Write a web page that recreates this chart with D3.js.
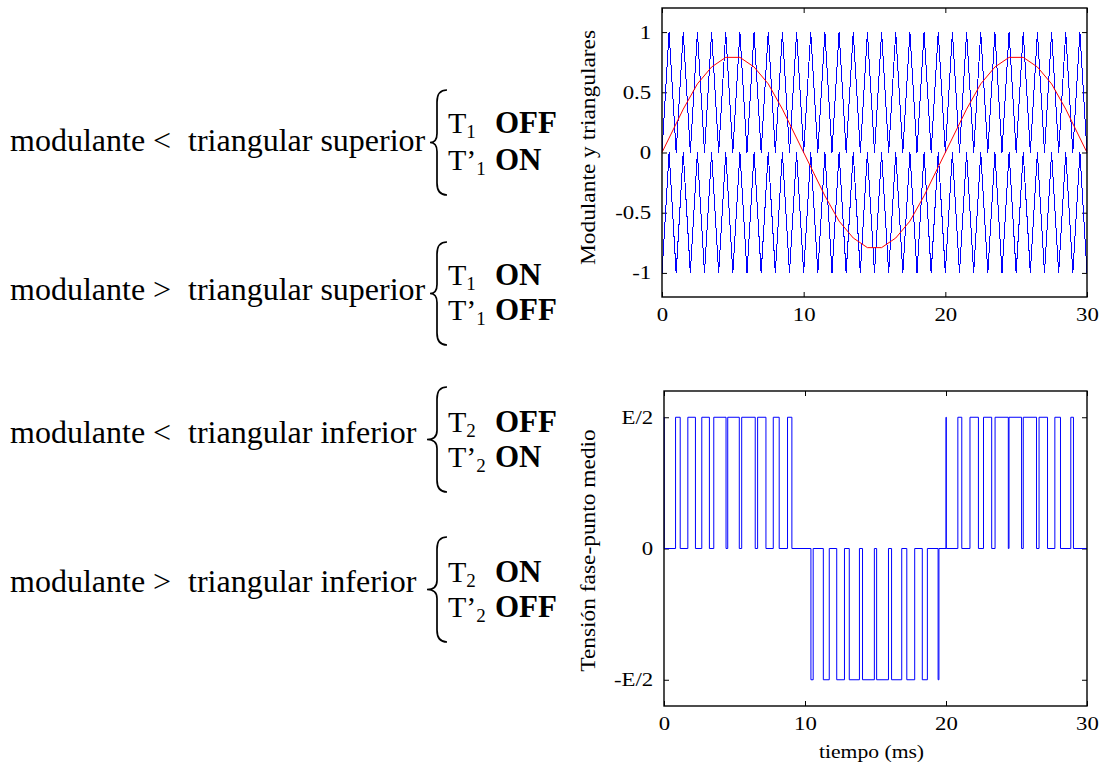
<!DOCTYPE html>
<html>
<head>
<meta charset="utf-8">
<script src="https://cdn.jsdelivr.net/npm/d3@7"></script>
<style>
  body { margin: 0; background: #fff; }
  svg { display: block; font-family: "Liberation Serif", "Times New Roman", serif; }
</style>
</head>
<body>
<div id="wrapper"></div>
<script>
// triangular carriers, vertices every half millisecond (ms)
const carrierTime = [
  0, 0.5, 1, 1.5, 2, 2.5, 3, 3.5, 4, 4.5, 5, 5.5, 6, 6.5, 7, 7.5, 8, 8.5, 9, 9.5,
  10, 10.5, 11, 11.5, 12, 12.5, 13, 13.5, 14, 14.5, 15, 15.5, 16, 16.5, 17, 17.5, 18, 18.5, 19, 19.5,
  20, 20.5, 21, 21.5, 22, 22.5, 23, 23.5, 24, 24.5, 25, 25.5, 26, 26.5, 27, 27.5, 28, 28.5, 29, 29.5, 30
]
const upperCarrier = [
  0, 1, 0, 1, 0, 1, 0, 1, 0, 1, 0, 1, 0, 1, 0, 1, 0, 1, 0, 1,
  0, 1, 0, 1, 0, 1, 0, 1, 0, 1, 0, 1, 0, 1, 0, 1, 0, 1, 0, 1,
  0, 1, 0, 1, 0, 1, 0, 1, 0, 1, 0, 1, 0, 1, 0, 1, 0, 1, 0, 1, 0
]
const lowerCarrier = [
  -1, 0, -1, 0, -1, 0, -1, 0, -1, 0, -1, 0, -1, 0, -1, 0, -1, 0, -1, 0,
  -1, 0, -1, 0, -1, 0, -1, 0, -1, 0, -1, 0, -1, 0, -1, 0, -1, 0, -1, 0,
  -1, 0, -1, 0, -1, 0, -1, 0, -1, 0, -1, 0, -1, 0, -1, 0, -1, 0, -1, 0, -1
]

// modulating wave (red)
const modTime = [
  0, 0.5, 1.5, 2.5, 3.5, 4.5, 5.5, 6.5, 7.5, 8.5, 9.5,
  10.5, 11.5, 12.5, 13.5, 14.5, 15.5, 16.5, 17.5, 18.5, 19.5,
  20.5, 21.5, 22.5, 23.5, 24.5, 25.5, 26.5, 27.5, 28.5, 29.5, 30
]
const modValue = [
  0, 0.12, 0.36, 0.57, 0.71, 0.79, 0.79, 0.71, 0.57, 0.36, 0.12,
  -0.12, -0.36, -0.57, -0.71, -0.79, -0.79, -0.71, -0.57, -0.36, -0.12,
  0.12, 0.36, 0.57, 0.71, 0.79, 0.79, 0.71, 0.57, 0.36, 0.12, 0
]

// phase to mid-point voltage, in units of E/2 (level held until next edge)
const pwmTime = [
  0, 0.02, 0.82, 1.15, 1.69, 2.23, 2.68, 3.22, 3.53, 4.40, 4.52, 5.34, 5.51, 6.47, 6.64, 7.23, 7.75, 8.17, 8.76, 9.07,
  10.42, 10.58, 11.30, 11.72, 12.25, 12.80, 13.14, 13.86, 14.08, 14.92, 15.08, 15.92, 16.14, 16.86, 17.22, 17.78, 18.32, 18.68, 19.44, 19.50,
  20.00, 20.02, 20.84, 21.12, 21.70, 22.30, 22.66, 23.24, 23.48, 24.42, 24.47, 25.36, 25.48, 26.42, 26.60, 27.20, 27.72, 28.12, 28.85, 29.04,
  30
]
const pwmLevel = [
  1, 0, 1, 0, 1, 0, 1, 0, 1, 0, 1, 0, 1, 0, 1, 0, 1, 0, 1, 0,
  -1, 0, -1, 0, -1, 0, -1, 0, -1, 0, -1, 0, -1, 0, -1, 0, -1, 0, -1, 0,
  1, 0, 1, 0, 1, 0, 1, 0, 1, 0, 1, 0, 1, 0, 1, 0, 1, 0, 1, 0,
  0
]

const xTicks = [0, 10, 20, 30]
const topYTicks = [-1, -0.5, 0, 0.5, 1]
const topYTickLabels = ['-1', '-0.5', '0', '0.5', '1']
const bottomYTicks = [-1, 0, 1]
const bottomYTickLabels = ['-E/2', '0', 'E/2']

// switching rules text
const ruleLeft = ['modulante <', 'modulante >', 'modulante <', 'modulante >']
const ruleRight = ['triangular superior', 'triangular superior', 'triangular inferior', 'triangular inferior']
const ruleSub = ['1', '1', '2', '2']
const ruleMainState = ['OFF', 'ON', 'OFF', 'ON']
const rulePrimeState = ['ON', 'OFF', 'ON', 'OFF']

function drawPanel(svg, box, opts) {
  const width = box.right - box.left
  const height = box.bottom - box.top

  const bounds = svg.append('g')
      .attr('transform', `translate(${box.left},${box.top})`)

  const xScale = d3.scaleLinear()
      .domain([0, 30])
      .range([0, width])
  const yScale = d3.scaleLinear()
      .domain([-1.2, 1.2])
      .range([height, 0])

  const styleAxis = g => {
    g.attr('font-family', null).attr('font-size', null)
    g.select('.domain').remove()
    g.selectAll('.tick line').attr('stroke', '#000')
    g.selectAll('.tick text')
        .attr('fill', '#000')
        .attr('font-size', 19)
        .attr('transform', 'scale(1.2,1)')
  }

  bounds.append('g')
      .call(d3.axisLeft(yScale)
        .tickValues(opts.yTicks)
        .tickFormat((d, i) => opts.yTickLabels[i])
        .tickSizeInner(-5).tickSizeOuter(0).tickPadding(9))
      .call(styleAxis)
  bounds.append('g')
      .attr('transform', `translate(${width},0)`)
      .call(d3.axisRight(yScale)
        .tickValues(opts.yTicks).tickFormat('')
        .tickSizeInner(-5).tickSizeOuter(0))
      .call(styleAxis)
  bounds.append('g')
      .attr('transform', `translate(0,${height})`)
      .call(d3.axisBottom(xScale)
        .tickValues(xTicks).tickFormat(d3.format('d'))
        .tickSizeInner(-5).tickSizeOuter(0).tickPadding(11))
      .call(styleAxis)
  bounds.append('g')
      .call(d3.axisTop(xScale)
        .tickValues(xTicks).tickFormat('')
        .tickSizeInner(-5).tickSizeOuter(0))
      .call(styleAxis)

  opts.series.forEach(s => {
    const line = d3.line()
        .x(d => xScale(d.t))
        .y(d => yScale(d.v))
    if (s.step) line.curve(d3.curveStepAfter)
    bounds.append('path')
        .attr('d', line(s.data))
        .attr('fill', 'none')
        .attr('stroke', s.color)
        .attr('stroke-width', 1)
        .attr('shape-rendering', s.crisp ? 'crispEdges' : null)
  })

  bounds.append('rect')
      .attr('width', width)
      .attr('height', height)
      .attr('fill', 'none')
      .attr('stroke', '#000')
      .attr('stroke-width', 1.4)

  svg.append('text')
      .attr('transform', `translate(${opts.yLabelX},${box.top + height / 2 + opts.yLabelShift}) rotate(-90) scale(1.17,1)`)
      .attr('text-anchor', 'middle')
      .attr('font-size', 20)
      .text(opts.yLabel)

  if (opts.xLabel) {
    svg.append('text')
        .attr('transform', `translate(${box.left + width / 2 - 4},${opts.xLabelY}) scale(1.17,1)`)
        .attr('text-anchor', 'middle')
        .attr('font-size', 18.5)
        .text(opts.xLabel)
  }
}

function drawRules(svg) {
  const mainBaseline = [151, 300, 443, 592]
  const braceTop = [90, 242, 387, 537]
  const braceBottom = [195, 345, 492, 642]
  const braceTip = [430, 430, 427, 427]
  const lineOne = [133, 285, 432, 582]
  const lineTwo = [170, 320, 467, 617]

  const g = svg.append('g').attr('fill', '#000')

  ruleLeft.forEach((txt, i) => {
    g.append('text')
        .attr('x', 10).attr('y', mainBaseline[i])
        .attr('font-size', 32)
        .text(txt)
    g.append('text')
        .attr('x', 188).attr('y', mainBaseline[i])
        .attr('font-size', 32)
        .text(ruleRight[i])

    // curly brace
    const y0 = braceTop[i]
    const y1 = braceBottom[i]
    const ym = (y0 + y1) / 2
    const sx = 437
    g.append('path')
        .attr('d', `M447,${y0} Q${sx},${y0} ${sx},${y0 + 12} L${sx},${ym - 9} Q${sx},${ym} ${braceTip[i]},${ym} Q${sx},${ym} ${sx},${ym + 9} L${sx},${y1 - 12} Q${sx},${y1} 447,${y1}`)
        .attr('fill', 'none')
        .attr('stroke', '#000')
        .attr('stroke-width', 1.7)

    const t1 = g.append('text')
        .attr('x', 448).attr('y', lineOne[i])
        .attr('font-size', 30)
    t1.append('tspan').text('T')
    t1.append('tspan').attr('font-size', 19).attr('dy', 5).text(ruleSub[i])
    g.append('text')
        .attr('x', 495).attr('y', lineOne[i])
        .attr('font-size', 31).attr('font-weight', 'bold')
        .text(ruleMainState[i])

    const t2 = g.append('text')
        .attr('x', 448).attr('y', lineTwo[i])
        .attr('font-size', 30)
    t2.append('tspan').text('T\u2019')
    t2.append('tspan').attr('font-size', 19).attr('dy', 5).text(ruleSub[i])
    g.append('text')
        .attr('x', 495).attr('y', lineTwo[i])
        .attr('font-size', 31).attr('font-weight', 'bold')
        .text(rulePrimeState[i])
  })
}

function drawFigure() {
  const svg = d3.select('#wrapper')
    .append('svg')
      .attr('width', 1107)
      .attr('height', 767)

  const upper = carrierTime.map((t, i) => ({ t, v: upperCarrier[i] }))
  const lower = carrierTime.map((t, i) => ({ t, v: lowerCarrier[i] }))
  const mod = modTime.map((t, i) => ({ t, v: modValue[i] }))
  const pwm = pwmTime.map((t, i) => ({ t, v: pwmLevel[i] }))

  drawPanel(svg, { left: 662, top: 8, right: 1087, bottom: 297 }, {
    yTicks: topYTicks,
    yTickLabels: topYTickLabels,
    yLabel: 'Modulante y triangulares',
    yLabelX: 595,
    yLabelShift: -5,
    series: [
      { data: upper, color: '#0000ff', crisp: true },
      { data: lower, color: '#0000ff', crisp: true },
      { data: mod, color: '#ff0000' },
    ],
  })

  drawPanel(svg, { left: 664, top: 391, right: 1087, bottom: 706 }, {
    yTicks: bottomYTicks,
    yTickLabels: bottomYTickLabels,
    yLabel: 'Tensión fase-punto medio',
    yLabelX: 595,
    yLabelShift: 2,
    xLabel: 'tiempo (ms)',
    xLabelY: 758,
    series: [
      { data: pwm, color: '#0000ff', step: true },
    ],
  })

  drawRules(svg)
}

drawFigure()
</script>
</body>
</html>
